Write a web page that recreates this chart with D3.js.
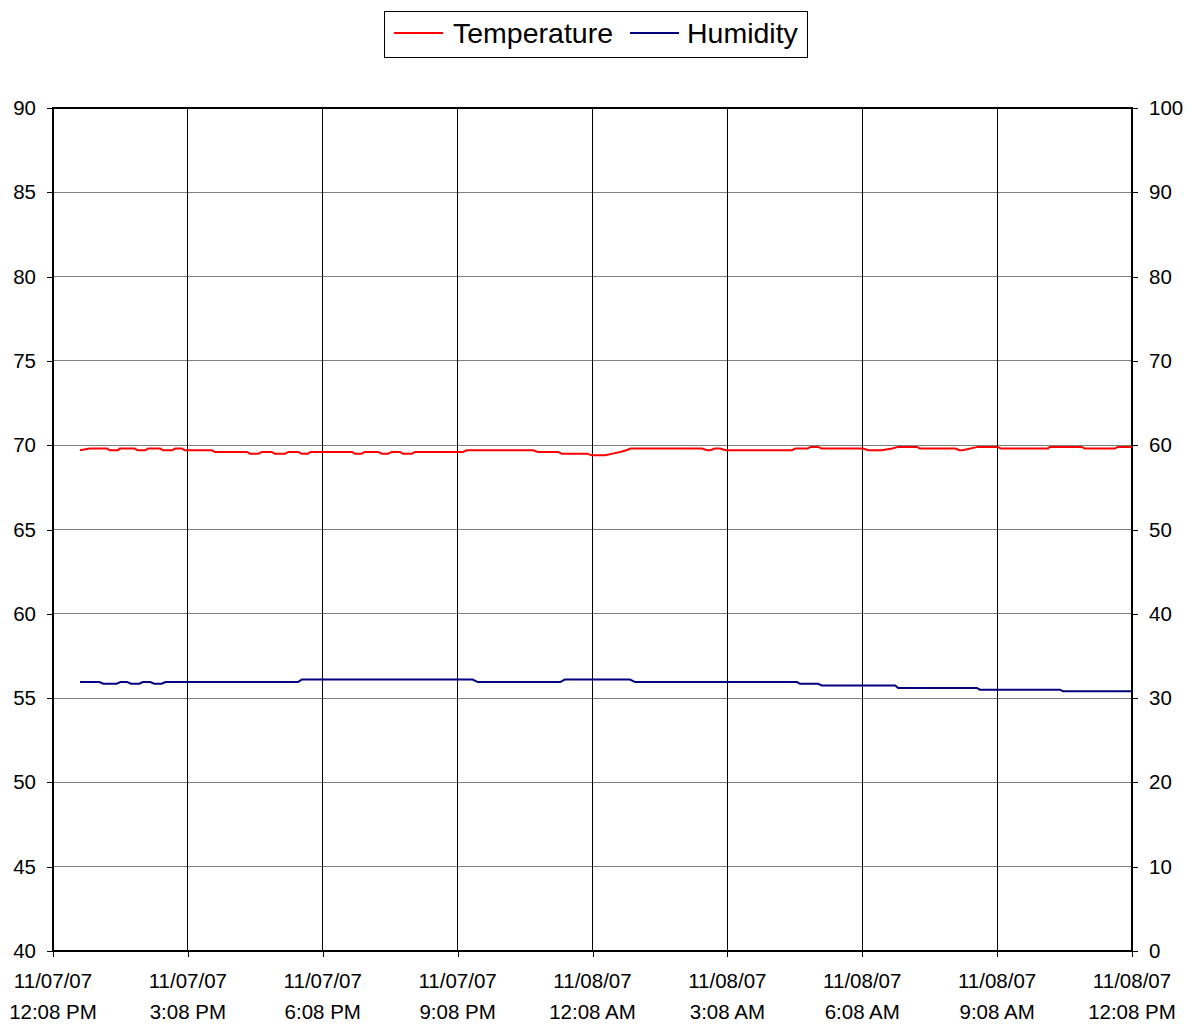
<!DOCTYPE html>
<html>
<head>
<meta charset="utf-8">
<script src="https://cdn.jsdelivr.net/npm/d3@7"></script>
<style>
  html, body { margin: 0; padding: 0; background: #fff; }
  svg { display: block; font-family: "Liberation Sans", Arial, sans-serif; }
</style>
</head>
<body>
<svg id="chart" width="1196" height="1026"></svg>
<script>
// ---- Data (minutes after 11/07/07 12:08 PM) ----
const startTime = new Date(2007, 10, 7, 12, 8);
const tempMinutes = [36,49,72,76,87,89,109,113,123,127,143,147,159,163,172,176,212,216,259,263,274,279,292,296,310,314,327,332,340,344,399,403,412,416,434,439,447,452,463,467,479,483,547,552,641,647,674,679,713,719,737,747,757,765,771,866,873,877,883,890,898,986,991,1007,1011,1021,1026,1081,1088,1106,1120,1128,1153,1157,1204,1210,1214,1234,1261,1265,1328,1330,1373,1377,1417,1421,1440];
const tempValues  = [69.7,69.8,69.8,69.7,69.7,69.8,69.8,69.7,69.7,69.8,69.8,69.7,69.7,69.8,69.8,69.7,69.7,69.6,69.6,69.5,69.5,69.6,69.6,69.5,69.5,69.6,69.6,69.5,69.5,69.6,69.6,69.5,69.5,69.6,69.6,69.5,69.5,69.6,69.6,69.5,69.5,69.6,69.6,69.7,69.7,69.6,69.6,69.5,69.5,69.4,69.4,69.5,69.6,69.7,69.8,69.8,69.7,69.7,69.8,69.8,69.7,69.7,69.8,69.8,69.9,69.9,69.8,69.8,69.7,69.7,69.8,69.9,69.9,69.8,69.8,69.7,69.7,69.9,69.9,69.8,69.8,69.9,69.9,69.8,69.8,69.9,69.9];
const humMinutes = [36,62,67,85,90,99,104,115,120,130,135,145,150,327,332,560,567,677,683,770,777,993,997,1021,1026,1124,1128,1233,1237,1344,1348,1440];
const humValues  = [31.9,31.9,31.7,31.7,31.9,31.9,31.7,31.7,31.9,31.9,31.7,31.7,31.9,31.9,32.2,32.2,31.9,31.9,32.2,32.2,31.9,31.9,31.7,31.7,31.5,31.5,31.2,31.2,31.0,31.0,30.8,30.8];
const tickHours = [0,3,6,9,12,15,18,21,24];
const leftTicks = [40,45,50,55,60,65,70,75,80,85,90];
const rightTicks = [0,10,20,30,40,50,60,70,80,90,100];
const seriesNames = ["Temperature", "Humidity"];
const seriesColors = ["#FF0000", "#000080"];

const toDate = m => new Date(startTime.getTime() + m * 60000);
const tempData = tempMinutes.map((m, i) => ({t: toDate(m), v: tempValues[i]}));
const humData = humMinutes.map((m, i) => ({t: toDate(m), v: humValues[i]}));

// ---- Layout ----
const L = 53, R = 1132, T = 108, B = 951;
const svg = d3.select("#chart");

const x = d3.scaleTime().domain([startTime, toDate(1440)]).range([L, R]);
const yL = d3.scaleLinear().domain([40, 90]).range([B, T]);
const yR = d3.scaleLinear().domain([0, 100]).range([B, T]);

// gridlines
const g = svg.append("g");
g.selectAll("line.hg").data(leftTicks.slice(1, -1)).join("line")
  .attr("x1", L).attr("x2", R).attr("y1", d => yL(d)).attr("y2", d => yL(d))
  .attr("stroke", "#808080").attr("stroke-width", 1).attr("shape-rendering", "crispEdges");
g.selectAll("line.vg").data(tickHours.slice(1, -1)).join("line")
  .attr("x1", d => x(toDate(d * 60))).attr("x2", d => x(toDate(d * 60)))
  .attr("y1", T).attr("y2", B)
  .attr("stroke", "#000").attr("stroke-width", 1).attr("shape-rendering", "crispEdges");

// axes
const tickVals = tickHours.map(h => toDate(h * 60));
const xAxis = svg.append("g").attr("transform", `translate(0,${B})`)
  .call(d3.axisBottom(x).tickValues(tickVals).tickSize(6).tickFormat(""));
const leftAxis = svg.append("g").attr("transform", `translate(${L},0)`)
  .call(d3.axisLeft(yL).tickValues(leftTicks).tickSize(6).tickFormat(""));
const rightAxis = svg.append("g").attr("transform", `translate(${R},0)`)
  .call(d3.axisRight(yR).tickValues(rightTicks).tickSize(6).tickFormat(""));
[xAxis, leftAxis, rightAxis].forEach(a => {
  a.select(".domain").remove();
  a.selectAll(".tick line").attr("stroke", "#000").attr("shape-rendering", "crispEdges");
});

// border
svg.append("rect").attr("x", L).attr("y", T).attr("width", R - L).attr("height", B - T)
  .attr("fill", "none").attr("stroke", "#000").attr("stroke-width", 2);

// tick labels
const fmtDate = d3.timeFormat("%m/%d/%y");
const fmtTime = d3.timeFormat("%-I:%M %p");
svg.append("g").selectAll("text").data(tickVals).join("text")
  .attr("x", d => x(d)).attr("y", 988).attr("text-anchor", "middle")
  .attr("font-size", 20.5).text(d => fmtDate(d));
svg.append("g").selectAll("text").data(tickVals).join("text")
  .attr("x", d => x(d)).attr("y", 1019).attr("text-anchor", "middle")
  .attr("font-size", 20.5).text(d => fmtTime(d));
svg.append("g").selectAll("text").data(leftTicks).join("text")
  .attr("x", 36).attr("y", d => yL(d) + 7).attr("text-anchor", "end")
  .attr("font-size", 20.5).text(d => d);
svg.append("g").selectAll("text").data(rightTicks).join("text")
  .attr("x", 1149).attr("y", d => yR(d) + 7).attr("text-anchor", "start")
  .attr("font-size", 20.5).text(d => d);

// lines
const lineL = d3.line().x(d => x(d.t)).y(d => yL(d.v));
const lineR = d3.line().x(d => x(d.t)).y(d => yR(d.v));
svg.append("path").datum(humData).attr("d", lineR)
  .attr("fill", "none").attr("stroke", seriesColors[1]).attr("stroke-width", 2);
svg.append("path").datum(tempData).attr("d", lineL)
  .attr("fill", "none").attr("stroke", seriesColors[0]).attr("stroke-width", 2);

// legend
const lg = svg.append("g");
lg.append("rect").attr("x", 384.5).attr("y", 11.5).attr("width", 423).attr("height", 46)
  .attr("fill", "#fff").attr("stroke", "#000").attr("stroke-width", 1);
const legendItems = [
  {name: seriesNames[0], color: seriesColors[0], lx: 394, tx: 453},
  {name: seriesNames[1], color: seriesColors[1], lx: 630, tx: 687}
];
legendItems.forEach(it => {
  lg.append("line").attr("x1", it.lx).attr("x2", it.lx + 49).attr("y1", 33).attr("y2", 33)
    .attr("stroke", it.color).attr("stroke-width", 2);
  lg.append("text").attr("x", it.tx).attr("y", 43).attr("font-size", 28.5).text(it.name);
});
</script>
</body>
</html>
